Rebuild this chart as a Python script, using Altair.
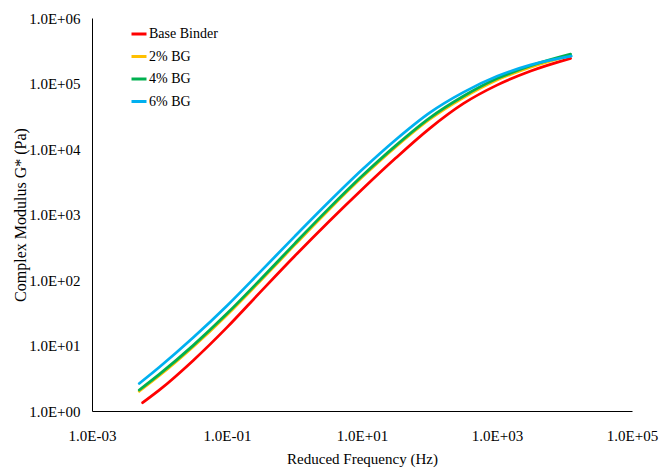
import altair as alt
import pandas as pd

series_names = ["Base Binder", "2% BG", "4% BG", "6% BG"]
series_colors = ["#FF0000", "#FFC000", "#00B050", "#00B0F0"]

# Reduced frequency (Hz) and complex modulus G* (Pa)
freq_base = [0.00562, 0.01, 0.0316, 0.1, 0.316, 1, 3.16, 10, 31.6, 100, 316, 1000, 3162, 12300]
g_base = [1.34, 2.10, 5.92, 18.9, 66.4, 230.1, 762, 2410, 7278, 20510, 49200, 94410, 154900, 241500]

freq_2bg = [0.00501, 0.01, 0.0316, 0.1, 0.316, 1, 3.16, 10, 31.6, 100, 316, 1000, 3162, 12300]
g_2bg = [2.00, 3.48, 9.59, 29.3, 98.2, 340.4, 1153, 3690, 10770, 28310, 60670, 113000, 177800, 269200]

freq_4bg = [0.00501, 0.01, 0.0316, 0.1, 0.316, 1, 3.16, 10, 31.6, 100, 316, 1000, 3162, 12300]
g_4bg = [2.09, 3.65, 10.05, 30.7, 102.8, 356.4, 1208, 3864, 11270, 29650, 63830, 118900, 187100, 280500]

freq_6bg = [0.00501, 0.01, 0.0316, 0.1, 0.316, 1, 3.16, 10, 31.6, 100, 316, 1000, 3162, 12590]
g_6bg = [2.63, 4.70, 13.24, 40.5, 135.5, 459, 1521, 4809, 13870, 35650, 73280, 128800, 192800, 261800]

x_ticks = [1e-3, 1e-1, 1e1, 1e3, 1e5]
y_ticks = [1, 10, 100, 1e3, 1e4, 1e5, 1e6]

rows = []
for name, fx, gy in zip(series_names,
                        [freq_base, freq_2bg, freq_4bg, freq_6bg],
                        [g_base, g_2bg, g_4bg, g_6bg]):
    for i, (a, b) in enumerate(zip(fx, gy)):
        rows.append({"series": name, "freq": a, "g": b, "i": i})
df = pd.DataFrame(rows)

label_expr = ("'1.0E' + (round(log(datum.value)/LN10) < 0 ? '-' : '+') + "
              "(abs(round(log(datum.value)/LN10)) < 10 ? '0' : '') + "
              "abs(round(log(datum.value)/LN10))")

FONT = "Liberation Serif, Times New Roman, serif"

chart = alt.Chart(df).mark_line(
    interpolate="monotone", strokeWidth=2.75, strokeCap="round"
).encode(
    x=alt.X("freq:Q", scale=alt.Scale(type="log", domain=[1e-3, 1e5], nice=False),
            axis=alt.Axis(values=x_ticks, labelExpr=label_expr, title="Reduced Frequency (Hz)",
                          labelFlush=False, labelOverlap=False, labelPadding=17, titlePadding=8,
                          titleFontSize=15)),
    y=alt.Y("g:Q", scale=alt.Scale(type="log", domain=[1, 1e6], nice=False),
            axis=alt.Axis(values=y_ticks, labelExpr=label_expr, title="Complex Modulus G* (Pa)",
                          labelFlush=False, labelOverlap=False, labelPadding=12, titlePadding=0,
                          titleFontSize=16)),
    color=alt.Color("series:N", scale=alt.Scale(domain=series_names, range=series_colors),
                    legend=alt.Legend(title=None, orient="none", legendX=38, legendY=7,
                                      symbolType="stroke", symbolSize=225, symbolStrokeWidth=3,
                                      labelFont=FONT, labelFontSize=14, labelColor="#000",
                                      rowPadding=6.5, labelOffset=1, padding=0)),
    order=alt.Order("i:Q"),
).properties(
    width=540, height=393,
    autosize=alt.AutoSizeParams(type="none"),
    padding={"left": 84, "top": 10, "right": 28, "bottom": 57},
).configure_axis(
    grid=False, ticks=False, domainColor="#000", domainWidth=1,
    labelFont=FONT, labelFontSize=15, labelColor="#000",
    titleFont=FONT, titleFontWeight="normal", titleColor="#000",
).configure_view(stroke="transparent")

chart.save("out.html", embed_options={"renderer": "svg", "actions": False})
